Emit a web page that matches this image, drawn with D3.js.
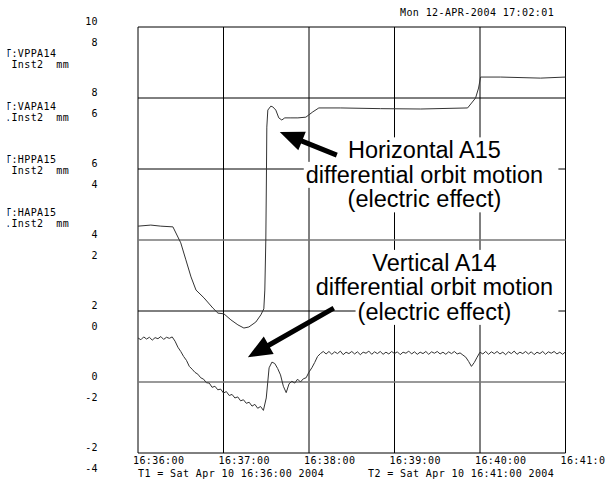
<!DOCTYPE html>
<html>
<head>
<meta charset="utf-8">
<script src="https://cdn.jsdelivr.net/npm/d3@7"></script>
<style>
  body { margin: 0; background: #fff; }
  svg { display: block; }
  .mono { font-family: "DejaVu Sans Mono", monospace; font-size: 10px; letter-spacing: 0.4px; white-space: pre; fill: #000; }
  .note { font-family: Arial, "Liberation Sans", sans-serif; font-size: 23.5px; fill: #000; }
</style>
</head>
<body>
<div id="chart"></div>
<script>
// time axis: seconds after T1 (16:36:00)
var tickLabels = ["16:36:00", "16:37:00", "16:38:00", "16:39:00", "16:40:00", "16:41:0"];
var leftTicksA = [10, 8, 6, 4, 2, 0, -2];
var leftTicksB = [8, 6, 4, 2, 0, -2, -4];
var signalNames = ["T:VPPA14", "T:VAPA14", "T:HPPA15", "T:HAPA15"];
var signalUnits = [" Inst2  mm", ".Inst2  mm", " Inst2  mm", ".Inst2  mm"];

// horizontal A15 trace
var upperSec = [0, 9, 16, 24.5, 30, 33.6, 37.2, 40.7, 46.3, 52.6, 56.1, 60.3, 65.2, 70.1, 74.3, 77.8, 82.7, 86.2, 88.3,
  89, 89.7, 90.1, 90.4, 91.1, 93.2, 94.6, 96.7, 98.8, 100.9, 103, 107.3, 112.2, 117.8, 122.7, 126.9, 142.3, 170.3,
  198.4, 231.3, 236.9, 239, 240.4, 254.5, 282.5, 300];
var upperPos = [4.39, 4.42, 4.39, 4.37, 3.92, 3.44, 2.96, 2.59, 2.37, 2.08, 1.94, 1.92, 1.75, 1.61, 1.52, 1.55, 1.69, 1.89, 2.06,
  2.59, 4.0, 5.69, 7.18, 7.66, 7.77, 7.75, 7.66, 7.44, 7.38, 7.44, 7.44, 7.44, 7.46, 7.61, 7.72, 7.72, 7.70,
  7.69, 7.72, 8.0, 8.28, 8.59, 8.59, 8.56, 8.59];

// vertical A14 trace (noisy)
var lowerSec = [0,2,4,6,8,10,12,14,16,18,20,22,24,26,28,30,32,34,36,38,40,42,44,46,48,50,52,54,56,58,60,62,64,66,68,70,
  72,74,76,78,80,82,84,86,88,90,92,94,96,98,100,102,104,106,108,110,112,114,116,118,120,122,124,126,128,130,
  132,134,136,138,140,142,144,146,148,150,152,154,156,158,160,162,164,166,168,170,172,174,176,178,180,182,184,186,188,190,
  192,194,196,198,200,202,204,206,208,210,212,214,216,218,220,222,224,226,228,230,232,234,236,238,240,
  242,244,246,248,250,252,254,256,258,260,262,264,266,268,270,272,274,276,278,280,282,284,286,288,290,292,294,296,298,300];
var lowerPos = [1.24,1.19,1.27,1.21,1.26,1.18,1.25,1.22,1.28,1.20,1.26,1.23,1.27,1.15,0.98,0.86,0.72,0.61,0.44,0.36,
  0.27,0.22,0.12,0.08,-0.02,-0.03,-0.15,-0.12,-0.22,-0.20,-0.31,-0.27,-0.38,-0.35,-0.45,-0.42,-0.53,-0.50,-0.60,-0.57,
  -0.68,-0.63,-0.74,-0.69,-0.80,-0.45,0.40,0.56,0.52,0.38,0.20,-0.12,-0.30,-0.05,0.02,-0.03,0.08,0.00,0.09,0.12,
  0.28,0.40,0.55,0.72,0.80,0.86,
  0.79,0.86,0.78,0.85,0.80,0.87,0.77,0.84,0.80,0.86,0.79,0.85,0.77,0.84,0.81,0.87,0.78,0.85,0.80,0.86,
  0.78,0.84,0.79,0.86,0.80,0.85,0.77,0.84,0.81,0.87,0.79,0.85,0.78,0.84,0.80,0.86,0.78,0.85,0.81,0.86,
  0.79,0.84,0.78,0.85,0.80,0.86,0.79,0.82,0.76,0.70,0.58,0.44,0.55,0.70,0.84,
  0.79,0.86,0.78,0.85,0.80,0.86,0.79,0.84,0.77,0.85,0.80,0.87,0.78,0.84,0.80,0.86,0.79,0.85,0.77,0.84,
  0.80,0.86,0.78,0.85,0.81,0.86,0.79,0.84,0.78,0.85];

var hNoteLines = ["Horizontal A15", "differential orbit motion", "(electric effect)"];
var vNoteLines = ["Vertical A14", "differential orbit motion", "(electric effect)"];

var width = 616, height = 482;
var t0 = new Date(2004, 3, 10, 16, 36, 0);
var t1 = new Date(2004, 3, 10, 16, 41, 0);
var toDate = function(s) { return d3.timeMillisecond.offset(t0, s * 1000); };

var x = d3.scaleTime().domain([t0, t1]).range([138, 565.5]);
var y = d3.scaleLinear().domain([-2, 10]).range([453, 27]);
var yB = d3.scaleLinear().domain([-4, 8]).range([453, 27]);

var svg = d3.select('#chart').append('svg')
  .attr('width', width).attr('height', height);

// header
svg.append('text').attr('class', 'mono')
  .attr('x', 400).attr('y', 16)
  .text("Mon 12-APR-2004 17:02:01");

// signal labels, left part cut off like the original screen grab
var clip = svg.append('clipPath').attr('id', 'leftclip');
clip.append('rect').attr('x', 7.5).attr('y', 0).attr('width', 120).attr('height', height);
var sig = svg.append('g').attr('clip-path', 'url(#leftclip)');
signalNames.forEach(function(n, i) {
  sig.append('text').attr('class', 'mono').attr('x', 5).attr('y', 57 + i * 53).text(n);
  sig.append('text').attr('class', 'mono').attr('x', 5).attr('y', 67.5 + i * 53).text(signalUnits[i]);
});

// left tick labels, two overlaid scales
svg.selectAll('.tickA').data(leftTicksA).enter().append('text')
  .attr('class', 'mono').attr('text-anchor', 'end')
  .attr('x', 98).attr('y', function(d) { return y(d) - 2.5; })
  .text(function(d) { return d; });
svg.selectAll('.tickB').data(leftTicksB).enter().append('text')
  .attr('class', 'mono').attr('text-anchor', 'end')
  .attr('x', 98).attr('y', function(d) { return yB(d) + 18.5; })
  .text(function(d) { return d; });

// grid
var minuteTicks = x.ticks(d3.timeMinute.every(1));
var grid = svg.append('g');
grid.selectAll('.vline').data(minuteTicks).enter().append('line')
  .attr('x1', function(d) { return x(d); }).attr('x2', function(d) { return x(d); })
  .attr('y1', 27).attr('y2', 453)
  .attr('stroke', '#000').attr('stroke-width', 1);
grid.selectAll('.hline').data(d3.range(-2, 11, 2)).enter().append('line')
  .attr('x1', 138).attr('x2', 565.5)
  .attr('y1', function(d) { return y(d); }).attr('y2', function(d) { return y(d); })
  .attr('stroke', function(d) { return (d === 4 || d === 0) ? '#777' : '#000'; })
  .attr('stroke-width', function(d) { return (d === 4 || d === 0) ? 1.5 : 1; });

// bottom labels
svg.selectAll('.xlab').data(minuteTicks).enter().append('text')
  .attr('class', 'mono')
  .attr('x', function(d) { return x(d) - 5; }).attr('y', 464)
  .text(function(d, i) { return tickLabels[i]; });
svg.append('text').attr('class', 'mono').attr('x', 138).attr('y', 477)
  .text("T1 = Sat Apr 10 16:36:00 2004");
svg.append('text').attr('class', 'mono').attr('x', 368).attr('y', 477)
  .text("T2 = Sat Apr 10 16:41:00 2004");

// traces
var line = d3.line()
  .x(function(d) { return x(toDate(d[0])); })
  .y(function(d) { return y(d[1]); });
svg.append('path')
  .datum(upperSec.map(function(s, i) { return [s, upperPos[i]]; }))
  .attr('d', line).attr('fill', 'none')
  .attr('stroke', '#333').attr('stroke-width', 1);
svg.append('path')
  .datum(lowerSec.map(function(s, i) { return [s, lowerPos[i]]; }))
  .attr('d', line).attr('fill', 'none')
  .attr('stroke', '#333').attr('stroke-width', 1);

// annotations: white boxes behind each line, all ending at 16:40:55
function note(lines, sec, pos) {
  var g = svg.append('g');
  var cx = x(toDate(sec));
  var right = x(toDate(295));
  lines.forEach(function(l, i) {
    var t = g.append('text').attr('class', 'note')
      .attr('text-anchor', 'middle')
      .attr('x', cx).attr('y', y(pos) + i * 24.5)
      .text(l);
    var b = t.node().getBBox();
    g.insert('rect', 'text')
      .attr('x', b.x - 2).attr('y', b.y)
      .attr('width', right - b.x + 2).attr('height', b.height)
      .attr('fill', '#fff');
  });
}
note(hNoteLines, 201, 6.30);
note(vNoteLines, 208, 3.13);

function arrow(s1, p1, s2, p2) {
  var ax = x(toDate(s1)), ay = y(p1), bx = x(toDate(s2)), by = y(p2);
  var dx = bx - ax, dy = by - ay, len = Math.sqrt(dx * dx + dy * dy);
  var ux = dx / len, uy = dy / len, nx = -uy, ny = ux;
  var hl = 24, hw = 10, sw = 2.5;
  var hx = bx - ux * hl, hy = by - uy * hl;
  var pts = [
    [ax + nx * sw, ay + ny * sw], [hx + nx * sw, hy + ny * sw], [hx + nx * hw, hy + ny * hw],
    [bx, by],
    [hx - nx * hw, hy - ny * hw], [hx - nx * sw, hy - ny * sw], [ax - nx * sw, ay - ny * sw]
  ];
  svg.append('path').attr('d', 'M' + pts.join('L') + 'Z').attr('fill', '#000');
}
arrow(139.5, 6.39, 99.5, 7.04);
arrow(137.4, 2.08, 77.1, 0.70);
</script>
</body>
</html>
